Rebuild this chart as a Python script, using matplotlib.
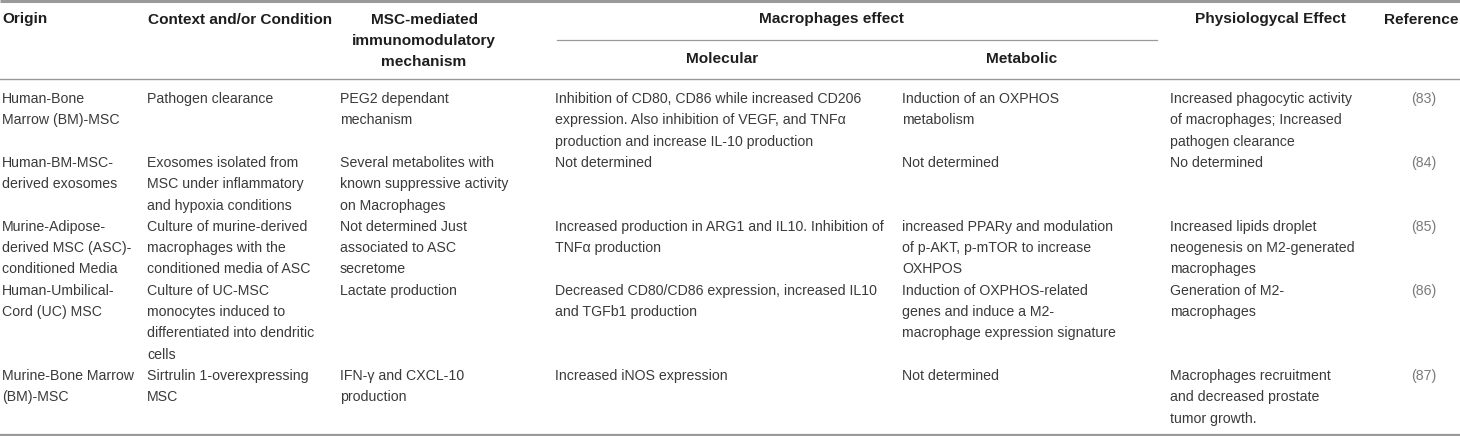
import matplotlib
matplotlib.use("Agg")
import matplotlib.pyplot as plt

plt.rcParams['font.family'] = ['Liberation Sans', 'DejaVu Sans']

# table content
headers = ["Origin", "Context and/or Condition",
           "MSC-mediated\nimmunomodulatory\nmechanism",
           "Molecular", "Metabolic", "Physiologycal Effect", "Reference"]
group_header = "Macrophages effect"

origin = ["Human-Bone\nMarrow (BM)-MSC",
          "Human-BM-MSC-\nderived exosomes",
          "Murine-Adipose-\nderived MSC (ASC)-\nconditioned Media",
          "Human-Umbilical-\nCord (UC) MSC",
          "Murine-Bone Marrow\n(BM)-MSC"]
context = ["Pathogen clearance",
           "Exosomes isolated from\nMSC under inflammatory\nand hypoxia conditions",
           "Culture of murine-derived\nmacrophages with the\nconditioned media of ASC",
           "Culture of UC-MSC\nmonocytes induced to\ndifferentiated into dendritic\ncells",
           "Sirtrulin 1-overexpressing\nMSC"]
mechanism = ["PEG2 dependant\nmechanism",
             "Several metabolites with\nknown suppressive activity\non Macrophages",
             "Not determined Just\nassociated to ASC\nsecretome",
             "Lactate production",
             "IFN-γ and CXCL-10\nproduction"]
molecular = ["Inhibition of CD80, CD86 while increased CD206\nexpression. Also inhibition of VEGF, and TNFα\nproduction and increase IL-10 production",
             "Not determined",
             "Increased production in ARG1 and IL10. Inhibition of\nTNFα production",
             "Decreased CD80/CD86 expression, increased IL10\nand TGFb1 production",
             "Increased iNOS expression"]
metabolic = ["Induction of an OXPHOS\nmetabolism",
             "Not determined",
             "increased PPARy and modulation\nof p-AKT, p-mTOR to increase\nOXHPOS",
             "Induction of OXPHOS-related\ngenes and induce a M2-\nmacrophage expression signature",
             "Not determined"]
physio = ["Increased phagocytic activity\nof macrophages; Increased\npathogen clearance",
          "No determined",
          "Increased lipids droplet\nneogenesis on M2-generated\nmacrophages",
          "Generation of M2-\nmacrophages",
          "Macrophages recruitment\nand decreased prostate\ntumor growth."]
reference = ["(83)", "(84)", "(85)", "(86)", "(87)"]

columns = [origin, context, mechanism, molecular, metabolic, physio]
col_x = [2, 147, 340, 555, 902, 1170]
ref_x = 1424

W, H = 1460, 436
fig = plt.figure(figsize=(W / 100, H / 100), dpi=100)
ax = fig.add_axes([0, 0, 1, 1])
ax.set_xlim(0, W)
ax.set_ylim(H, 0)
ax.axis('off')

fs = 10.2
hfs = 11.1
line_h = 21.3
body_col = '#3a3a3a'
head_col = '#1e1e1e'
rule_col = '#9a9a9a'

# rules
ax.plot([0, W], [1.5, 1.5], color=rule_col, lw=2.2, solid_capstyle='butt')
ax.plot([557, 1157], [40, 40], color=rule_col, lw=0.9)
ax.plot([0, W], [79.5, 79.5], color=rule_col, lw=1.0)
ax.plot([0, W], [434.5, 434.5], color=rule_col, lw=1.6)

# headers
head_pos = [(2, 'left', 19.5), (148, 'left', 19.5), (424, 'center', 19.5),
            (722, 'center', 59), (1022, 'center', 59), (1270, 'center', 19.5),
            (1421, 'center', 19.5)]
for text, (x, ha, y0) in zip(headers, head_pos):
    for i, line in enumerate(text.split("\n")):
        ax.text(x, y0 + i * line_h, line, ha=ha, va='center', fontsize=hfs,
                fontweight='bold', color=head_col)
ax.text(831, 19.5, group_header, ha='center', va='center', fontsize=hfs,
        fontweight='bold', color=head_col)

# body rows
y = 99
for r in range(len(origin)):
    n_max = 1
    for col, x in zip(columns, col_x):
        lines = col[r].split("\n")
        n_max = max(n_max, len(lines))
        for i, line in enumerate(lines):
            ax.text(x, y + i * line_h, line, ha='left', va='center',
                    fontsize=fs, color=body_col)
    ax.text(ref_x, y, reference[r], ha='center', va='center', fontsize=fs,
            color='#7a7a7a')
    y += n_max * line_h

fig.savefig('out.png', dpi=100)
